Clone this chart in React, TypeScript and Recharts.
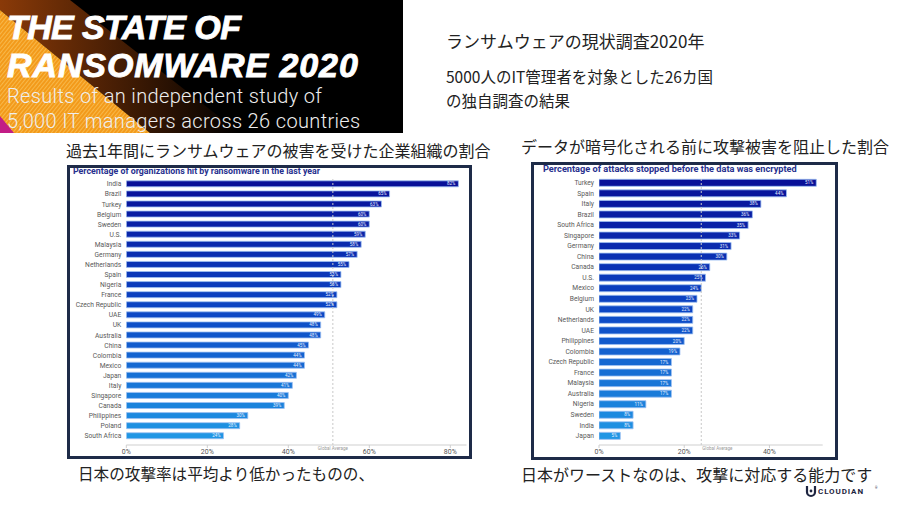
import React from 'react';
import { BarChart, Bar, XAxis, YAxis, ReferenceLine, LabelList, Cell } from 'recharts';

// ---- Data ----
const hitCountries = [
  'India', 'Brazil', 'Turkey', 'Belgium', 'Sweden', 'U.S.', 'Malaysia', 'Germany', 'Netherlands',
  'Spain', 'Nigeria', 'France', 'Czech Republic', 'UAE', 'UK', 'Australia', 'China', 'Colombia',
  'Mexico', 'Japan', 'Italy', 'Singapore', 'Canada', 'Philippines', 'Poland', 'South Africa',
];
const hitValues = [82, 65, 63, 60, 60, 59, 58, 57, 55, 53, 53, 52, 52, 49, 48, 48, 45, 44, 44, 42, 41, 40, 39, 30, 28, 24];
const hitTicks = [0, 20, 40, 60, 80];
const hitGlobalAverage = 51;

const stopCountries = [
  'Turkey', 'Spain', 'Italy', 'Brazil', 'South Africa', 'Singapore', 'Germany', 'China', 'Canada',
  'U.S.', 'Mexico', 'Belgium', 'UK', 'Netherlands', 'UAE', 'Philippines', 'Colombia', 'Czech Republic',
  'France', 'Malaysia', 'Australia', 'Nigeria', 'Sweden', 'India', 'Japan',
];
const stopValues = [51, 44, 38, 36, 35, 33, 31, 30, 26, 25, 24, 23, 22, 22, 22, 20, 19, 17, 17, 17, 17, 11, 8, 8, 5];
const stopTicks = [0, 20, 40];
const stopGlobalAverage = 24;

const hitData = hitCountries.map((name, i) => ({ name, value: hitValues[i] }));
const stopData = stopCountries.map((name, i) => ({ name, value: stopValues[i] }));

// ---- Styles ----
const TOP = [8, 16, 152];
const MID = [12, 70, 196];
const BOT = [32, 150, 228];
function barColor(i: number, n: number) {
  const t = i / (n - 1);
  let a, b, u;
  if (t < 0.5) { a = TOP; b = MID; u = t / 0.5; } else { a = MID; b = BOT; u = (t - 0.5) / 0.5; }
  const c = a.map((v, k) => Math.round(v + (b[k] - v) * u));
  return `rgb(${c[0]},${c[1]},${c[2]})`;
}

const jp = '"Noto Sans CJK JP", sans-serif';
const chartFont = 'Roboto, "Noto Sans", sans-serif';

function CategoryTick(props: any) {
  const { x, y, payload } = props;
  return (
    <text x={x} y={y} dy="0.35em" textAnchor="end" fontSize={6.7} fill="#5a5a5a" fontFamily={chartFont}>
      {payload.value}
    </text>
  );
}

function AvgLabel(anchor: 'middle' | 'start') {
  return (props: any) => {
    const vb = props.viewBox || {};
    const x = vb.x + (anchor === 'start' ? 1 : 0);
    const y = vb.y + vb.height + 5;
    return (
      <text x={x} y={y} textAnchor={anchor} fontSize={4.5} fill="#999" fontFamily={chartFont}>
        Global Average
      </text>
    );
  };
}

function Panel(props: {
  data: { name: string; value: number }[];
  ticks: number[];
  domainMax: number;
  avg: number;
  avgAnchor: 'middle' | 'start';
  width: number;
  height: number;
  margin: any;
  yWidth: number;
}) {
  const { data, ticks, domainMax, avg, avgAnchor, width, height, margin, yWidth } = props;
  return (
    <BarChart
      width={width}
      height={height}
      data={data}
      layout="vertical"
      margin={margin}
      barCategoryGap="18%"
      style={{ fontFamily: chartFont }}
    >
      <XAxis
        type="number"
        domain={[0, domainMax]}
        ticks={ticks}
        allowDataOverflow
        tickFormatter={(v: number) => `${v}%`}
        axisLine={{ stroke: '#cfcfcf' }}
        tickLine={{ stroke: '#cfcfcf' }}
        tickSize={3}
        tickMargin={1}
        height={12}
        tick={{ fontSize: 7, fill: '#555' }}
      />
      <YAxis
        type="category"
        dataKey="name"
        width={yWidth}
        interval={0}
        axisLine={false}
        tickLine={false}
        tickSize={3}
        tickMargin={2}
        padding={{ top: 0, bottom: 4 }}
        tick={<CategoryTick />}
      />
      <ReferenceLine
        x={avg}
        stroke="#c8c8c8"
        strokeDasharray="2 2"
        label={AvgLabel(avgAnchor)}
      />
      <Bar dataKey="value" isAnimationActive={false} stroke="#9ec0f2" strokeWidth={0.8}>
        {data.map((d, i) => (
          <Cell key={d.name} fill={barColor(i, data.length)} />
        ))}
        <LabelList
          dataKey="value"
          position="insideRight"
          offset={3}
          formatter={(v: number) => `${v}%`}
          style={{ fontSize: 4.5, fill: '#e8f0ff' }}
        />
      </Bar>
    </BarChart>
  );
}

function Banner() {
  const title: React.CSSProperties = {
    fill: '#fff',
    stroke: '#fff',
    strokeWidth: 0.9,
    fontFamily: '"Liberation Sans", Arial, sans-serif',
    fontWeight: 700,
    fontStyle: 'italic',
    fontSize: 34,
  };
  const sub: React.CSSProperties = {
    fill: '#eee',
    fontFamily: 'Roboto, sans-serif',
    fontWeight: 300,
    fontSize: 20,
    letterSpacing: 0.35,
  };
  return (
    <svg width={403} height={133} style={{ position: 'absolute', left: 0, top: 0 }}>
      <defs>
        <linearGradient id="brown" x1="0" y1="0" x2="1" y2="0">
          <stop offset="0" stopColor="#8a3a08" />
          <stop offset="1" stopColor="#000" />
        </linearGradient>
        <pattern id="stripes" width="3" height="3" patternUnits="userSpaceOnUse" patternTransform="rotate(39)">
          <rect width="3" height="3" fill="#f39a1a" />
          <rect width="1" height="3" fill="#f7b84a" />
        </pattern>
      </defs>
      <rect width={403} height={133} fill="#000" />
      <polygon points="0,0 70,0 240,133 150,133 0,10" fill="url(#brown)" />
      <polygon points="0,10 150,133 0,133" fill="url(#stripes)" />
      <polygon points="0,116 0,133 14,133" fill="#c21d86" />
      <text x={7} y={39} style={{ ...title, letterSpacing: -0.6 }}>THE STATE OF</text>
      <text x={7} y={77} style={{ ...title, letterSpacing: 0.9 }}>RANSOMWARE 2020</text>
      <text x={7} y={103} style={sub}>Results of an independent study of</text>
      <text x={7} y={127.5} style={sub}>5,000 IT managers across 26 countries</text>
    </svg>
  );
}

function JText(props: { x: number; y: number; size: number; children: React.ReactNode }) {
  return (
    <div
      style={{
        position: 'absolute',
        left: props.x,
        top: props.y - props.size / 2,
        fontSize: props.size,
        lineHeight: '1',
        fontFamily: jp,
        color: '#222',
        whiteSpace: 'nowrap',
      }}
    >
      {props.children}
    </div>
  );
}

const frameStyle = (l: number, t: number, w: number, h: number): React.CSSProperties => ({
  position: 'absolute',
  left: l,
  top: t,
  width: w,
  height: h,
  border: '3px solid #1e2b48',
  boxSizing: 'border-box',
  pointerEvents: 'none',
});

const panelTitle: React.CSSProperties = {
  position: 'absolute',
  fontFamily: chartFont,
  fontWeight: 700,
  color: '#27308e',
  whiteSpace: 'nowrap',
  lineHeight: '1',
};

export default function App() {
  return (
    <div
      style={{
        position: 'fixed',
        left: 0,
        top: 0,
        width: 900,
        height: 507,
        background: '#fff',
        overflow: 'hidden',
      }}
    >
      <Banner />
      <JText x={446} y={40} size={17}>ランサムウェアの現状調査2020年</JText>
      <JText x={446} y={77} size={15.5}>5000人のIT管理者を対象とした26カ国</JText>
      <JText x={446} y={101} size={15.5}>の独自調査の結果</JText>
      <JText x={66} y={150} size={16}>過去1年間にランサムウェアの被害を受けた企業組織の割合</JText>
      <JText x={521} y={146} size={16}>データが暗号化される前に攻撃被害を阻止した割合</JText>

      {/* Left panel */}
      <div style={{ position: 'absolute', left: 67, top: 165 }}>
        <Panel
          data={hitData}
          ticks={hitTicks}
          domainMax={84}
          avg={hitGlobalAverage}
          avgAnchor="middle"
          width={405}
          height={294}
          margin={{ top: 14, right: 5.5, bottom: 2, left: 0 }}
          yWidth={59.3}
        />
      </div>
      <div style={{ ...panelTitle, left: 73, top: 166.6, fontSize: 8.8 }}>
        Percentage of organizations hit by ransomware in the last year
      </div>
      <div style={frameStyle(67, 165, 405, 294)} />

      {/* Right panel */}
      <div style={{ position: 'absolute', left: 531, top: 163 }}>
        <Panel
          data={stopData}
          ticks={stopTicks}
          domainMax={52.5}
          avg={stopGlobalAverage}
          avgAnchor="start"
          width={307}
          height={297}
          margin={{ top: 14.4, right: 15.3, bottom: 3, left: 0 }}
          yWidth={68}
        />
      </div>
      <div style={{ ...panelTitle, left: 543, top: 164, fontSize: 9.2 }}>
        Percentage of attacks stopped before the data was encrypted
      </div>
      <div style={frameStyle(531, 162, 307, 298)} />

      <JText x={78} y={474} size={15.6}>日本の攻撃率は平均より低かったものの、</JText>
      <JText x={521} y={474} size={16}>日本がワーストなのは、攻撃に対応する能力です</JText>

      {/* Logo */}
      <svg width={80} height={14} style={{ position: 'absolute', left: 804, top: 484 }}>
        <path d="M3 2 L3 8 A4 4 0 0 0 11 8 L11 2" fill="none" stroke="#1e2540" strokeWidth={2.2} />
        <circle cx={7} cy={7} r={1.4} fill="#1e2540" />
        <text x={14} y={10} fontFamily="Roboto, sans-serif" fontWeight={700} fontSize={8} letterSpacing={0.9} fill="#1e2540">
          CLOUDIAN
        </text>
        <text x={71} y={5} fontFamily="Roboto, sans-serif" fontSize={3} fill="#1e2540">®</text>
      </svg>
    </div>
  );
}
